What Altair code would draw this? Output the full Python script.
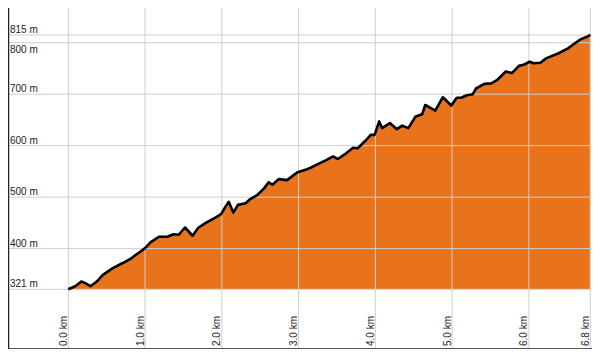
import altair as alt
import pandas as pd

# Elevation profile
dist_km = [0.00, 0.09, 0.17, 0.22, 0.29, 0.37, 0.45, 0.58, 0.71, 0.82, 0.88, 0.92,
           1.00, 1.07, 1.18, 1.29, 1.37, 1.44, 1.52, 1.62, 1.69, 1.78, 1.89, 1.99,
           2.05, 2.09, 2.15, 2.21, 2.31, 2.36, 2.46, 2.55, 2.61, 2.66, 2.74, 2.85,
           2.98, 3.09, 3.17, 3.25, 3.36, 3.45, 3.51, 3.60, 3.71, 3.77, 3.88, 3.94,
           3.99, 4.05, 4.09, 4.19, 4.28, 4.35, 4.43, 4.52, 4.61, 4.65, 4.78, 4.88,
           4.99, 5.06, 5.12, 5.19, 5.27, 5.31, 5.42, 5.51, 5.59, 5.70, 5.78, 5.87,
           5.93, 6.01, 6.06, 6.15, 6.23, 6.38, 6.51, 6.60, 6.68, 6.75, 6.80]
elev_m = [321, 327, 336, 333, 327, 336, 349, 362, 372, 381, 388, 392,
          401, 412, 423, 423, 428, 427, 441, 425, 440, 449, 458, 467,
          482, 491, 470, 485, 488, 495, 504, 517, 529, 524, 535, 533,
          548, 553, 558, 564, 572, 579, 574, 583, 596, 595, 611, 621,
          621, 647, 634, 644, 632, 639, 634, 656, 661, 679, 668, 694,
          678, 693, 693, 698, 700, 711, 720, 721, 728, 744, 741, 755,
          757, 763, 760, 761, 770, 779, 789, 799, 807, 811, 815]

y_ticks = [321, 400, 500, 600, 700, 800, 815]
y_labels = ["321 m", "400 m", "500 m", "600 m", "700 m", "800 m", "815 m"]
x_ticks = [0.0, 1.0, 2.0, 3.0, 4.0, 5.0, 6.0, 6.8]
x_labels = ["0.0 km", "1.0 km", "2.0 km", "3.0 km", "4.0 km", "5.0 km", "6.0 km", "6.8 km"]

W, H = 584, 341
ORANGE = "#E8731A"
GRID = "#cfcfcf"
FONT = "Liberation Sans"

xs = alt.Scale(domain=[-0.7856, 6.8226], nice=False, zero=False)
ys = alt.Scale(domain=[205.0, 867.4], nice=False, zero=False)

prof = pd.DataFrame({"km": dist_km, "m": elev_m})
ydf = pd.DataFrame({"m": y_ticks, "label": y_labels})
xdf = pd.DataFrame({"km": x_ticks, "label": x_labels})
one = pd.DataFrame({"a": [0]})

area = alt.Chart(prof).mark_area(color=ORANGE, opacity=1).encode(
    x=alt.X("km:Q", scale=xs, axis=None),
    y=alt.Y("m:Q", scale=ys, axis=None),
    y2=alt.datum(321),
)

vgrid = alt.Chart(xdf).mark_rule(color=GRID, strokeWidth=1).encode(
    x=alt.X("km:Q", scale=xs, axis=None),
    y=alt.value(0),
    y2=alt.value(H),
)

hgrid = alt.Chart(ydf).mark_rule(color=GRID, strokeWidth=1).encode(
    y=alt.Y("m:Q", scale=ys, axis=None),
    x=alt.value(0),
    x2=alt.value(W),
)

line = alt.Chart(prof).mark_line(color="#000000", strokeWidth=2.6, strokeJoin="round").encode(
    x=alt.X("km:Q", scale=xs, axis=None),
    y=alt.Y("m:Q", scale=ys, axis=None),
)

frame_bottom = alt.Chart(one).mark_rule(color="#555555", strokeWidth=1).encode(
    x=alt.value(0), x2=alt.value(W), y=alt.value(H - 0.5)
)
frame_left = alt.Chart(one).mark_rule(color="#222222", strokeWidth=1.5).encode(
    x=alt.value(0.5), y=alt.value(0), y2=alt.value(H)
)

ylab = alt.Chart(ydf).transform_filter("datum.m != 800").mark_text(
    align="left", baseline="alphabetic", dy=-2, fontSize=10, font=FONT, color="#222222"
).encode(
    x=alt.value(2),
    y=alt.Y("m:Q", scale=ys, axis=None),
    text="label:N",
)
ylab800 = alt.Chart(ydf).transform_filter("datum.m == 800").mark_text(
    align="left", baseline="top", dy=2, fontSize=10, font=FONT, color="#222222"
).encode(
    x=alt.value(2),
    y=alt.Y("m:Q", scale=ys, axis=None),
    text="label:N",
)

xlab = alt.Chart(xdf).mark_text(
    align="left", baseline="alphabetic", angle=270, dy=-1.5, fontSize=10, font=FONT, color="#222222"
).encode(
    x=alt.X("km:Q", scale=xs, axis=None),
    y=alt.value(H - 3),
    text="label:N",
)

chart = alt.layer(
    area, vgrid, hgrid, line, frame_bottom, frame_left, ylab, ylab800, xlab
).properties(
    width=W, height=H, padding=0,
    autosize=alt.AutoSizeParams(type="none"),
    background="white",
).configure_view(stroke=None)

chart.save("out.html", embed_options={"renderer": "svg", "actions": False})
